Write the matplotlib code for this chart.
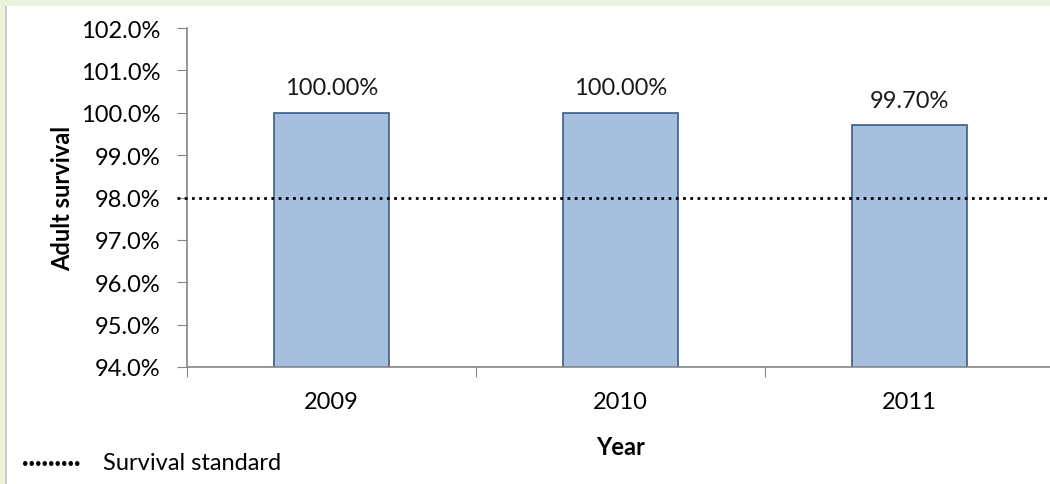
import matplotlib.pyplot as plt
from matplotlib.patches import Rectangle

# data
years = ["2009", "2010", "2011"]
survival = [100.0, 100.0, 99.7]
labels = ["100.00%", "100.00%", "99.70%"]
standard = 98.0
yticks = [94, 95, 96, 97, 98, 99, 100, 101, 102]

plt.rcParams['font.family'] = ['Lato', 'DejaVu Sans']
FS = 17

fig = plt.figure(figsize=(10.5, 4.85), dpi=100)
fig.patch.set_facecolor('#EAF1DD')

# white chart area inside the green frame
fig.patches.append(Rectangle((6 / 1050, 0), 1, 1 - 7 / 485, transform=fig.transFigure,
                             facecolor='white', edgecolor='none', zorder=-2))
fig.patches.append(Rectangle((5 / 1050, 0), 1.5 / 1050, 1 - 7 / 485, transform=fig.transFigure,
                             facecolor='#C8CCC4', edgecolor='none', zorder=-2))

ax = fig.add_axes([187 / 1050, 1 - 368 / 485, 867 / 1050, 339 / 485])
ax.set_zorder(1)
ax.set_facecolor('none')

x = range(len(years))
ax.bar(x, survival, width=0.40, bottom=0, color='#A7BFDE', edgecolor='#385D8A',
       linewidth=1.2, zorder=2)
for i, (v, t) in enumerate(zip(survival, labels)):
    ax.text(i, v + 0.34, t, ha='center', va='bottom', fontsize=FS, color='#1a1a1a')

# survival standard line
ax.axhline(standard, xmin=-0.011, xmax=1, color='black', linestyle=(0, (1, 1.6)),
           linewidth=2, clip_on=False, zorder=3)

ax.set_ylim(94, 102)
ax.set_xlim(-0.5, 2.5)
ax.set_yticks(yticks)
ax.set_yticklabels([f"{v:.1f}%" for v in yticks], fontsize=FS)
ax.set_xticks([-0.5, 0.5, 1.5, 2.5])
ax.set_xticklabels([])
ax.set_xticks(list(x), minor=True)
ax.set_xticklabels(years, minor=True, fontsize=FS)
ax.tick_params(axis='x', which='minor', length=0, pad=17)
ax.tick_params(axis='x', which='major', length=7, color='#868686', direction='out')
ax.tick_params(axis='y', length=7, color='#868686', direction='out', pad=12)

for s in ['top', 'right']:
    ax.spines[s].set_visible(False)
for s in ['left', 'bottom']:
    ax.spines[s].set_color('#868686')
    ax.spines[s].set_linewidth(1.2)

ax.set_ylabel("Adult survival", fontsize=FS, fontweight='bold', labelpad=5)
ax.set_xlabel("Year", fontsize=FS, fontweight='bold', labelpad=17)

# legend
fig.text(22 / 1050, 1 - 463 / 485, "\u00b7\u00b7\u00b7\u00b7\u00b7\u00b7\u00b7\u00b7\u00b7", fontsize=FS,
         fontweight='bold', va='center', ha='left')
fig.text(103 / 1050, 1 - 463 / 485, "Survival standard", fontsize=FS, va='center', ha='left')

fig.savefig("out.png", dpi=100, facecolor=fig.get_facecolor())
